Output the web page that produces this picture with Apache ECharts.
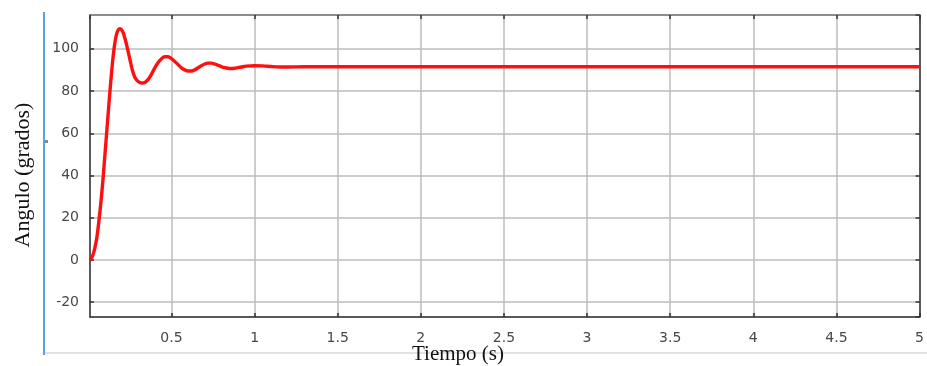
<!DOCTYPE html>
<html>
<head>
<meta charset="utf-8">
<script src="https://cdn.jsdelivr.net/npm/echarts@6/dist/echarts.min.js"></script>
<style>html,body{margin:0;padding:0;background:#fff;}#c{width:927px;height:366px;}</style>
</head>
<body>
<div id="c"></div>
<script>
const timeValues = [0.01,0.02,0.03,0.04,0.05,0.06,0.07,0.08,0.09,0.10,0.11,0.12,0.13,0.14,0.15,0.16,0.17,0.18,0.19,0.20,0.21,0.22,0.23,0.24,0.25,0.26,0.27,0.28,0.30,0.32,0.34,0.36,0.38,0.40,0.42,0.44,0.46,0.48,0.50,0.52,0.54,0.56,0.58,0.60,0.62,0.64,0.66,0.68,0.70,0.72,0.74,0.76,0.78,0.80,0.82,0.84,0.86,0.88,0.90,0.92,0.95,1.00,1.05,1.10,1.15,1.20,1.30,1.40,1.50,2.00,3.00,4.00,5.00];
const angleValues = [0,1,3,6,10,16,23,31,40,50,60,70,80,89,97,103,107,109,109.5,109,107.5,105,102,98.5,95,91.5,88.5,86.5,84.5,83.8,84,85.5,88,91,93.5,95.3,96.2,96.2,95.3,94,92.5,91,90,89.5,89.5,90,91,92,92.8,93.2,93.2,92.8,92.2,91.6,91.1,90.8,90.7,90.8,91.1,91.4,91.8,92,91.9,91.6,91.4,91.4,91.5,91.5,91.5,91.5,91.5,91.5,91.5];
const xLabel = 'Tiempo (s)';
const yLabel = 'Angulo (grados)';

const seriesData = timeValues.map((t, i) => [t, angleValues[i]]);
const frameColor = '#333';
const gridColor = '#bcbcbc';
const labelStyle = {color: '#474747', fontSize: 14, fontFamily: 'DejaVu Sans'};

const chart = echarts.init(document.getElementById('c'), null, {renderer: 'canvas'});
chart.setOption({
  animation: false,
  backgroundColor: '#fff',
  grid: {left: 90, right: 3, top: 15, bottom: 49, containLabel: false},
  xAxis: [{
    type: 'value', min: 0.01, max: 5, splitNumber: 10, position: 'bottom',
    axisLine: {show: true, onZero: false, lineStyle: {color: frameColor, width: 1.5}},
    axisTick: {show: true, inside: true, length: 4, lineStyle: {color: frameColor, width: 1.5}},
    axisLabel: Object.assign({margin: 14, showMinLabel: false, showMaxLabel: true}, labelStyle),
    splitLine: {show: true, lineStyle: {color: gridColor, width: 1.5}}
  }, {
    type: 'value', min: 0.01, max: 5, splitNumber: 10, position: 'top',
    axisLine: {show: true, onZero: false, lineStyle: {color: '#777', width: 1.5}},
    axisTick: {show: true, inside: true, length: 4, lineStyle: {color: frameColor, width: 1.5}},
    axisLabel: {show: false}, splitLine: {show: false}
  }],
  yAxis: [{
    type: 'value', min: -27, max: 116, splitNumber: 7, position: 'left',
    axisLine: {show: true, onZero: false, lineStyle: {color: frameColor, width: 1.5}},
    axisTick: {show: true, inside: true, length: 4, lineStyle: {color: frameColor, width: 1.5}},
    axisLabel: Object.assign({margin: 11, showMinLabel: false, showMaxLabel: false}, labelStyle),
    splitLine: {show: true, lineStyle: {color: gridColor, width: 1.5}}
  }, {
    type: 'value', min: -27, max: 116, splitNumber: 7, position: 'right',
    axisLine: {show: true, onZero: false, lineStyle: {color: frameColor, width: 1.5}},
    axisTick: {show: true, inside: true, length: 4, lineStyle: {color: frameColor, width: 1.5}},
    axisLabel: {show: false}, splitLine: {show: false}
  }],
  series: [{
    type: 'line', xAxisIndex: 0, yAxisIndex: 0,
    data: seriesData, showSymbol: false, smooth: 0.3,
    lineStyle: {color: '#ff1010', width: 3.4}, z: 5
  }],
  graphic: [
    {type: 'line', shape: {x1: 44, y1: 12, x2: 44, y2: 355}, style: {stroke: '#5aa2e2', lineWidth: 2}},
    {type: 'line', shape: {x1: 45, y1: 353, x2: 927, y2: 353}, style: {stroke: '#e2e2e2', lineWidth: 2}},
    {type: 'rect', shape: {x: 45, y: 140, width: 3, height: 3}, style: {fill: '#888'}},
    {type: 'text', x: 458, y: 354, style: {text: xLabel, fontFamily: 'Liberation Serif', fontSize: 21, fill: '#111', align: 'center', verticalAlign: 'middle'}},
    {type: 'text', x: 23, y: 175, rotation: Math.PI / 2, style: {text: yLabel, fontFamily: 'Liberation Serif', fontSize: 22, fill: '#111', align: 'center', verticalAlign: 'middle'}}
  ]
});
</script>
</body>
</html>
